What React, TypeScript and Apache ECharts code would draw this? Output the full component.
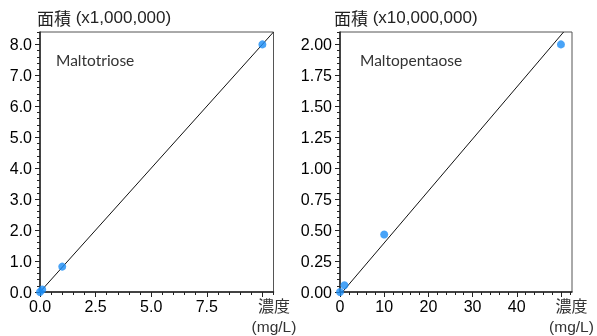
import React, { useEffect, useRef } from "react";
import * as echarts from "echarts";

// Left chart: Maltotriose (area x1,000,000)
const leftConc = [0, 0.1, 1, 10];
const leftArea = [0, 0.08, 0.82, 8.0];
const leftFit = [[0, 0], [10.5, 8.4]];
const leftYLabels = [0, 1, 2, 3, 4, 5, 6, 7, 8];
const leftXLabels = [0, 2.5, 5, 7.5];
const leftXMajor = [0, 2.5, 5, 7.5, 10];

// Right chart: Maltopentaose (area x10,000,000)
const rightConc = [0, 1, 10, 50];
const rightArea = [0, 0.055, 0.465, 2.0];
const rightFit = [[0.55, 0], [50.6, 2.1]];
const rightYLabels = [0, 0.25, 0.5, 0.75, 1, 1.25, 1.5, 1.75, 2];
const rightXLabels = [0, 10, 20, 30, 40];
const rightXMajor = [0, 10, 20, 30, 40, 50];

function steps(max: number, step: number): number[] {
  const out: number[] = [];
  const n = Math.floor(max / step + 1e-9);
  for (let i = 0; i <= n; i++) out.push(+(i * step).toFixed(6));
  return out;
}

const TICK_FONT = "'Liberation Sans', Arial, sans-serif";
const CJK_FONT = "'Noto Sans CJK JP', sans-serif";

function axisName(text: string, unit: string, left: number) {
  return {
    type: "text", left, top: 9,
    style: {
      text: `{a|${text}}{b| ${unit}}`,
      rich: {
        a: { fontSize: 17, fontFamily: CJK_FONT, fill: "#222", lineHeight: 22 },
        b: { fontSize: 17, fontFamily: TICK_FONT, fill: "#222", lineHeight: 22 },
      },
    },
  };
}

function unitText(x: number, main: string, sub: string) {
  return [
    { type: "text", x, y: 305, style: { text: main, fontSize: 16, lineHeight: 16, fontFamily: CJK_FONT, fill: "#333", align: "center", verticalAlign: "middle" } },
    { type: "text", x, y: 326.5, style: { text: sub, fontSize: 15.5, lineHeight: 16, fontFamily: TICK_FONT, fill: "#333", align: "center", verticalAlign: "middle" } },
  ];
}

export default function App() {
  const ref = useRef<HTMLDivElement>(null);
  useEffect(() => {
    if (!ref.current) return;
    const chart = echarts.init(ref.current, undefined, { renderer: "svg" });
    const axisLine = { show: true, lineStyle: { color: "#222", width: 1.5 } };
    const labelStyle = { color: "#000", fontSize: 16, fontFamily: TICK_FONT };

    const mkX = (grid: number, max: number, labels: number[], major: number[], dec: number) => [
      {
        type: "value", gridIndex: grid, min: 0, max, position: "bottom",
        axisLine, splitLine: { show: false },
        axisTick: { show: true, length: 5, customValues: major, lineStyle: { color: "#222" } },
        axisLabel: { ...labelStyle, margin: 6, customValues: labels, formatter: (v: number) => v.toFixed(dec) },
      },
      {
        type: "value", gridIndex: grid, min: 0, max, position: "bottom",
        axisLine: { show: false }, splitLine: { show: false },
        axisTick: { show: true, length: 3, customValues: steps(max, max > 20 ? 2 : 0.5), lineStyle: { color: "#222" } },
        axisLabel: { show: false },
      },
    ];
    const mkY = (grid: number, max: number, labels: number[], minorStep: number, dec: number) => [
      {
        type: "value", gridIndex: grid, min: 0, max, position: "left",
        axisLine, splitLine: { show: false },
        axisTick: { show: true, length: 5, customValues: labels, lineStyle: { color: "#222" } },
        axisLabel: { ...labelStyle, margin: 8, customValues: labels, formatter: (v: number) => v.toFixed(dec) },
      },
      {
        type: "value", gridIndex: grid, min: 0, max, position: "left",
        axisLine: { show: false }, splitLine: { show: false },
        axisTick: { show: true, length: 3, customValues: steps(max, minorStep), lineStyle: { color: "#222" } },
        axisLabel: { show: false },
      },
    ];

    const pointStyle = { color: "#1a8cf5" };
    const lineStyle = { color: "#111", width: 1 };

    chart.setOption({
      animation: false,
      grid: [
        { left: 40, top: 32, width: 233.5, height: 260, show: true, borderColor: "#555", borderWidth: 1 },
        { left: 340, top: 32, width: 232, height: 260, show: true, borderColor: "#555", borderWidth: 1 },
      ],
      xAxis: [
        ...mkX(0, 10.5, leftXLabels, leftXMajor, 1),
        ...mkX(1, 52.5, rightXLabels, rightXMajor, 0),
      ],
      yAxis: [
        ...mkY(0, 8.4, leftYLabels, 0.2, 1),
        ...mkY(1, 2.1, rightYLabels, 0.05, 2),
      ],
      series: [
        { type: "line", xAxisIndex: 0, yAxisIndex: 0, data: leftFit, symbol: "none", lineStyle, z: 2 },
        {
          type: "scatter", xAxisIndex: 0, yAxisIndex: 0, symbolSize: 8, itemStyle: pointStyle, z: 3,
          data: leftConc.map((c, i) => [c, leftArea[i]]), clip: false,
        },
        { type: "line", xAxisIndex: 2, yAxisIndex: 2, data: rightFit, symbol: "none", lineStyle, z: 2 },
        {
          type: "scatter", xAxisIndex: 2, yAxisIndex: 2, symbolSize: 8, itemStyle: pointStyle, z: 3,
          data: rightConc.map((c, i) => [c, rightArea[i]]), clip: false,
        },
      ],
      graphic: [
        axisName("面積", "(x1,000,000)", 37),
        axisName("面積", "(x10,000,000)", 334),
        ...unitText(274, "濃度", "(mg/L)"),
        ...unitText(571.5, "濃度", "(mg/L)"),
        { type: "text", x: 56, y: 60, style: { text: "Maltotriose", fontSize: 15.5, fontFamily: "Lato, sans-serif", fill: "#333", verticalAlign: "middle" } },
        { type: "text", x: 360, y: 60, style: { text: "Maltopentaose", fontSize: 15.5, fontFamily: "Lato, sans-serif", fill: "#333", verticalAlign: "middle" } },
      ],
    });
    return () => chart.dispose();
  }, []);
  return <div ref={ref} style={{ position: "fixed", left: 0, top: 0, width: 597, height: 336 }} />;
}
